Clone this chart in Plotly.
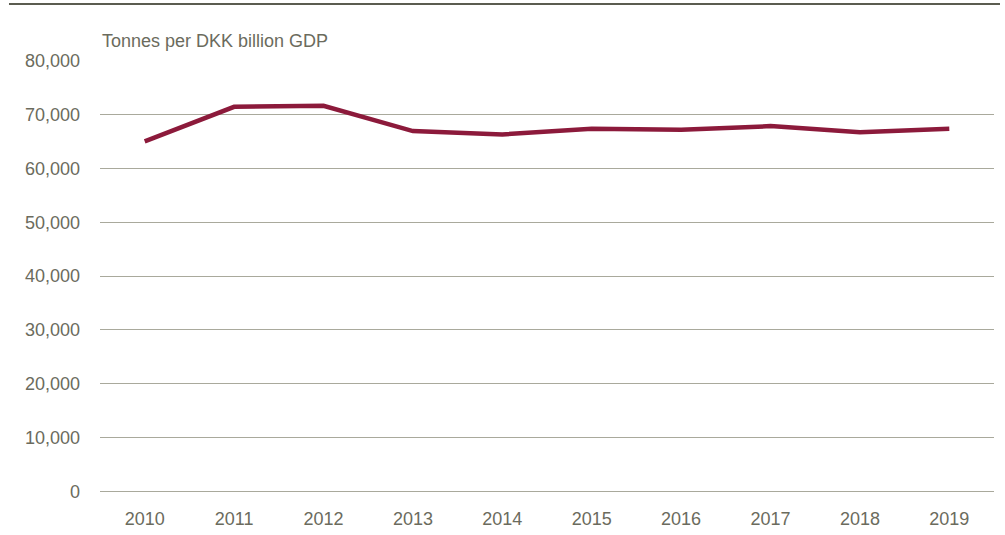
import plotly.graph_objects as go

years = ["2010", "2011", "2012", "2013", "2014", "2015", "2016", "2017", "2018", "2019"]
values = [65050, 71480, 71670, 66960, 66350, 67400, 67210, 67890, 66770, 67400]
y_ticks = [0, 10000, 20000, 30000, 40000, 50000, 60000, 70000, 80000]
y_title = "Tonnes per DKK billion GDP"

FONT = "Liberation Sans, Arial, sans-serif"
TXT = "#6b6b5d"
GRID = "#a9a99c"

fig = go.Figure()
fig.add_trace(go.Scatter(
    x=years, y=values, mode="lines",
    line=dict(color="#8c1a3b", width=4.5),
    hoverinfo="skip", showlegend=False,
))

fig.update_layout(
    width=1005, height=535,
    margin=dict(l=100, r=11, t=61, b=43, autoexpand=False),
    paper_bgcolor="white", plot_bgcolor="white",
    font=dict(family=FONT, size=18, color=TXT),
    hovermode=False,
    xaxis=dict(
        type="category", range=[-0.5, 9.5], showgrid=False, zeroline=False, showline=False,
        ticks="", tickfont=dict(size=18, color=TXT), ticklabelstandoff=14,
    ),
    yaxis=dict(
        range=[-150, 80000], tickvals=y_ticks, tickformat=",d",
        showgrid=True, gridcolor=GRID, gridwidth=1,
        zeroline=True, zerolinecolor=GRID, zerolinewidth=1,
        showline=False, ticks="",
        tickfont=dict(size=18, color=TXT), ticklabelstandoff=19,
    ),
    shapes=[dict(type="line", xref="paper", yref="paper",
                 x0=-0.1018, x1=1.0067, y0=1.1323, y1=1.1323,
                 line=dict(color="#5b5c50", width=2.2))],
    annotations=[dict(text=y_title, xref="paper", yref="paper",
                      x=0, y=1.018, xanchor="left", yanchor="bottom",
                      showarrow=False, font=dict(size=18, color=TXT))],
)

fig.write_html("out.html", config={"displayModeBar": False},
               post_script="document.body.style.margin='0';")
